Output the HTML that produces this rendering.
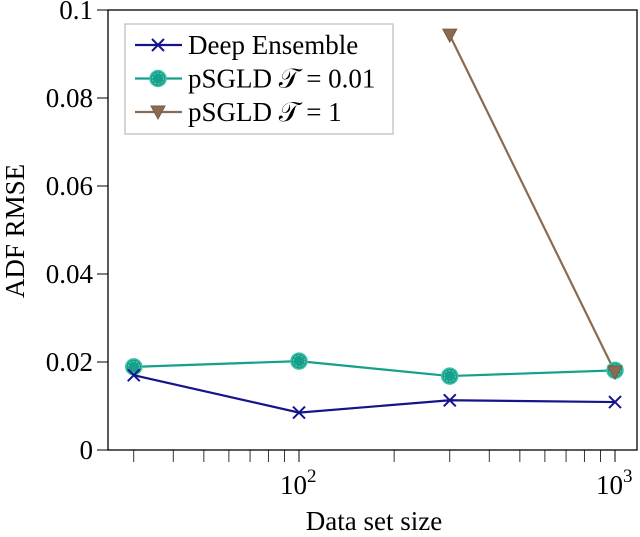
<!DOCTYPE html>
<html><head><meta charset="utf-8"><style>
body{margin:0;background:#fff}
svg text{font-family:"Liberation Serif",serif;fill:#000}
</style></head><body>
<svg width="640" height="532" viewBox="0 0 640 532">
<g id="g"></g>
</svg>
<script>
const sizes=[30,100,300,1000];
const deepEnsemble=[0.0170,0.0085,0.0113,0.0109];
const psgld001=[0.0189,0.0202,0.0168,0.0181];
const psgld1Sizes=[300,1000];
const psgld1=[0.0943,0.0177];
const yTicks=[0,0.02,0.04,0.06,0.08,0.1];
const yTickLabels=["0","0.02","0.04","0.06","0.08","0.1"];
const xMajor=[100,1000];
const xMajorExp=["2","3"];
const xMinor=[30,40,50,60,70,80,90,200,300,400,500,600,700,800,900];

const L=108,R=637,T=10,B=450;
const X=v=>299+316*Math.log10(v/100);
const Y=v=>B-(v/0.1)*(B-T);
const ns="http://www.w3.org/2000/svg";
const g=document.getElementById('g');
function el(t,a,p){const e=document.createElementNS(ns,t);for(const k in a)e.setAttribute(k,a[k]);(p||g).appendChild(e);return e;}

const frame=el('rect',{x:L,y:T,width:R-L,height:B-T,fill:'none',stroke:'#000','stroke-width':1.3});



yTicks.forEach((v,i)=>{
  const t=el('line',{x1:L-11,x2:L,y1:Y(v),y2:Y(v),stroke:'#000','stroke-width':1});
  
  
  const tx=el('text',{x:L-15,y:Y(v)+9,'text-anchor':'end','font-size':27});
  tx.textContent=yTickLabels[i];
  
  
});
xMinor.forEach(v=>{
  const t=el('line',{x1:X(v),x2:X(v),y1:B,y2:B+12,stroke:'#000','stroke-width':0.8});
  
  
});
xMajor.forEach((v,i)=>{
  const t=el('line',{x1:X(v),x2:X(v),y1:B,y2:B+12,stroke:'#000','stroke-width':1});
  
  
  const tx=el('text',{x:X(v)-19,y:B+44,'font-size':27});
  tx.textContent='10';
  
  
  const sp=el('tspan',{dy:-12,'font-size':19},tx);
  sp.textContent=xMajorExp[i];
});

const xt=el('text',{x:374,y:530,'text-anchor':'middle','font-size':27});
xt.textContent='Data set size';


const yt=el('text',{x:0,y:0,'text-anchor':'middle','font-size':27,transform:'translate(24,231) rotate(-90)'});
yt.textContent='ADF RMSE';



function cross(x,y,c,p){const s=6;el('path',{d:`M${x-s} ${y-s}L${x+s} ${y+s}M${x-s} ${y+s}L${x+s} ${y-s}`,stroke:c,'stroke-width':2,fill:'none'},p);}
function circ(x,y,p){el('circle',{cx:x,cy:y,r:8,fill:'#14a08a',stroke:'#3cc0a8','stroke-width':1.5},p);el('circle',{cx:x,cy:y,r:5.5,fill:'none',stroke:'#9fe0d0','stroke-width':0.6,'stroke-dasharray':'2 1.5'},p);}
function tri(x,y,p){el('path',{d:`M${x-7} ${y-6}L${x+7} ${y-6}L${x} ${y+7}Z`,fill:'#8a6a50',stroke:'#7a5a40','stroke-width':1},p);}

function series(name,xs,ys,color,mk){
  const grp=el('g',{});
  
  
  el('polyline',{points:xs.map((v,i)=>X(v)+','+Y(ys[i])).join(' '),fill:'none',stroke:color,'stroke-width':2.2},grp);
  xs.forEach((v,i)=>mk(X(v),Y(ys[i]),grp));
}
series('series-psgld-t1',psgld1Sizes,psgld1,'#8a6a50',tri);
series('series-psgld-t001',sizes,psgld001,'#14a08a',circ);
series('series-deep-ensemble',sizes,deepEnsemble,'#14148c',(x,y,p)=>cross(x,y,'#14148c',p));
tri(X(psgld1Sizes[1]),Y(psgld1[1]));

const lg=el('g',{});


el('rect',{x:125,y:24,width:268,height:110,fill:'#fff',stroke:'#bbb','stroke-width':1.2},lg);
const items=[['Deep Ensemble','#14148c',(x,y,p)=>cross(x,y,'#14148c',p)],['pSGLD 𝒯 = 0.01','#14a08a',circ],['pSGLD 𝒯 = 1','#8a6a50',tri]];
items.forEach((it,i)=>{
  const y=45+i*33.5;
  const e=el('g',{},lg);
  
  
  el('line',{x1:135,x2:182,y1:y,y2:y,stroke:it[1],'stroke-width':2.2},e);
  it[2](158,y,e);
  const t=el('text',{x:188,y:y+9,'font-size':27},e);
  t.textContent=it[0];
});
</script>
</body></html>
